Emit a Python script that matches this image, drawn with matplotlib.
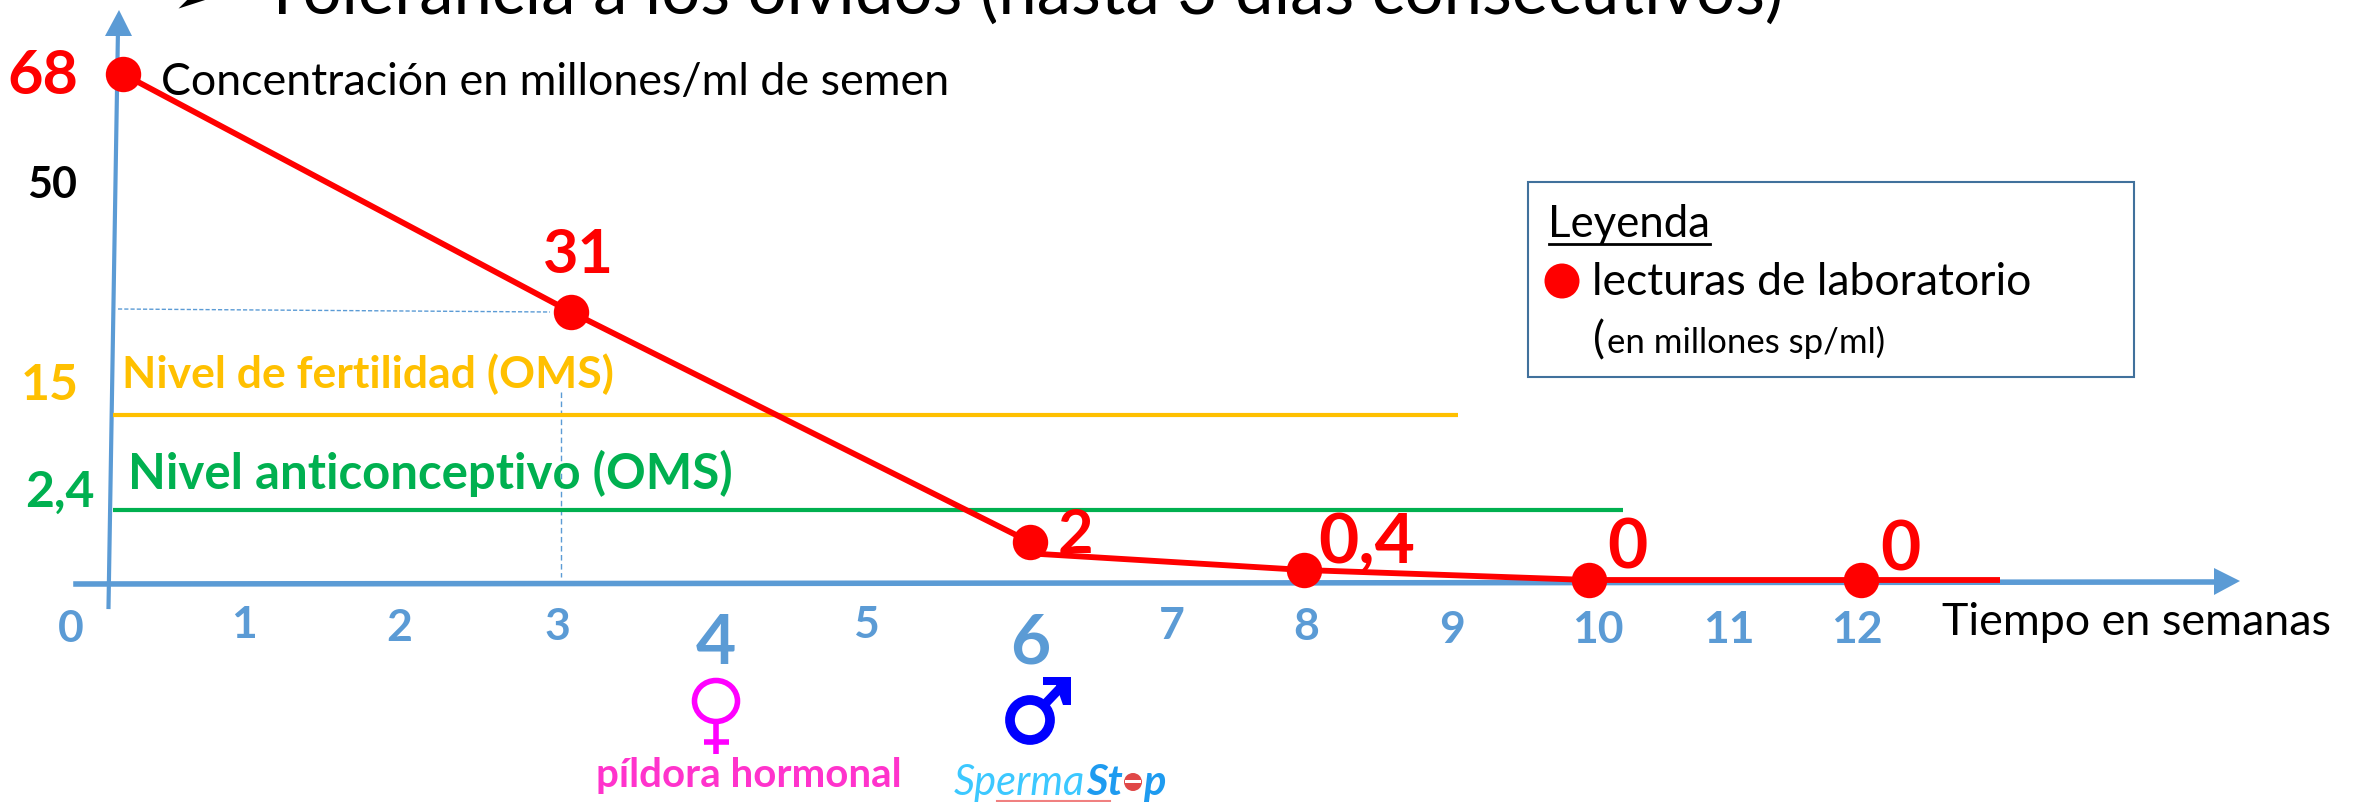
import numpy as np
import matplotlib
matplotlib.use("Agg")
import matplotlib.pyplot as plt
from matplotlib.patches import Rectangle, Polygon, Ellipse, Circle

plt.rcParams['font.family'] = ['Lato', 'DejaVu Sans']

# lab readings
weeks = [0, 3, 6, 8, 10, 12]
conc = [68, 31, 2, 0.4, 0, 0]
line_end_week = 13
# the second stretch of the line leaves week 6 a bit below the dot
second_stretch_start = 1.35
fertility_level = 15
contraceptive_level = 2.4
value_labels = ['68', '31', '2', '0,4', '0', '0']
week_labels = ['0', '1', '2', '3', '4', '5', '6', '7', '8', '9', '10', '11', '12']

RED = '#FF0000'
BLUE = '#5B9BD5'
AMBER = '#FFC000'
GREEN = '#00B050'
W, H = 2361, 803

# the drawing is hand made, so both axes are piecewise: value -> pixel
week_knots = [-0.82, 0, 3, 6, 8, 10, 12, 13, 15.6]
xpx_knots = [0, 123, 571, 1030, 1304, 1589, 1861, 2000, 2361]
conc_knots = [-10, 0, 0.4, 2, 2.4, 15, 31, 68, 80]
ypx_knots = [803, 581, 571, 543, 511, 416, 313, 75, 0]
yh_knots = [H - p for p in ypx_knots]

fig = plt.figure(figsize=(W / 100, H / 100), dpi=100)
ax = fig.add_axes([0, 0, 1, 1])
ax.set_xscale('function', functions=(lambda v: np.interp(v, week_knots, xpx_knots),
                                     lambda p: np.interp(p, xpx_knots, week_knots)))
ax.set_yscale('function', functions=(lambda v: np.interp(v, conc_knots, yh_knots),
                                     lambda p: np.interp(p, yh_knots, conc_knots)))
ax.set_xlim(week_knots[0], week_knots[-1])
ax.set_ylim(conc_knots[0], conc_knots[-1])
ax.axis('off')
ax.patch.set_alpha(0)

# overlay in pixels for the annotations
pix = fig.add_axes([0, 0, 1, 1], zorder=-1)
pix.set_xlim(0, W)
pix.set_ylim(H, 0)
pix.axis('off')
top = fig.add_axes([0, 0, 1, 1], zorder=5)
top.set_xlim(0, W)
top.set_ylim(H, 0)
top.axis('off')
top.patch.set_alpha(0)


def put(x, y, s, size, color='black', weight='normal', ha='center', **kw):
    top.text(x, y, s, fontsize=size, color=color, fontweight=weight, ha=ha, va='baseline', **kw)


# axes arrows
pix.plot([108.5, 118], [608, 30], color=BLUE, lw=3)
pix.add_patch(Polygon([[119, 11], [105, 37], [132, 37]], color=BLUE, lw=0))
pix.plot([76, 2216], [585, 583], color=BLUE, lw=4)
pix.add_patch(Polygon([[2240, 582], [2214, 569], [2214, 596]], color=BLUE, lw=0))

# guides to the week 3 reading
pix.plot([118, 550], [310, 313], color=BLUE, lw=1, ls=(0, (3, 1.5)))
pix.plot([561, 561], [393, 578], color=BLUE, lw=1, ls=(0, (4, 2.5)))

# WHO levels
ax.plot([-0.07, 9.08], [fertility_level] * 2, color=AMBER, lw=3, solid_capstyle='butt')
ax.plot([-0.07, 10.25], [contraceptive_level] * 2, color=GREEN, lw=3, solid_capstyle='butt')

# readings
ax.plot(weeks[:3], conc[:3], color=RED, lw=4.2, solid_capstyle='butt', zorder=3)
ax.plot(weeks[2:] + [line_end_week], [second_stretch_start] + conc[3:] + [0],
        color=RED, lw=4.2, solid_capstyle='butt', zorder=3)
ax.plot(weeks, conc, 'o', color=RED, ms=25.5, mew=0, zorder=4)

# header clipped by the top edge
put(172, 14, '➢', 42, ha='left', family=['DejaVu Sans'])
put(262, 14, 'Tolerancia a los olvidos (hasta 3 días consecutivos)', 49.6, ha='left')

put(161, 95, 'Concentración en millones/ml de semen', 32.2, ha='left')
put(1942, 635, 'Tiempo en semanas', 32.3, ha='left')

# y side labels
put(43, 94, value_labels[0], 44, RED, 'bold')
put(52, 198, '50', 31, 'black', 'bold')
put(50, 400, '15', 36, AMBER, 'bold')
put(60, 507, '2,4', 36, GREEN, 'bold')
put(122, 388, 'Nivel de fertilidad (OMS)', 32, AMBER, 'bold', ha='left')
put(128, 489, 'Nivel anticonceptivo (OMS)', 35.4, GREEN, 'bold', ha='left')

# reading labels
put(578, 273, value_labels[1], 44, RED, 'bold')
put(1075, 553, value_labels[2], 44, RED, 'bold')
put(1367, 563, value_labels[3], 50, RED, 'bold')
put(1627, 569, value_labels[4], 50, RED, 'bold')
put(1900, 571, value_labels[5], 50, RED, 'bold')

# week labels, not evenly placed in the original
tick_x = [71, 244, 399, 557, 716, 866, 1030, 1172, 1306, 1452, 1598, 1729, 1857]
tick_y = [642, 638, 641, 640, 664, 638, 664, 639, 640, 643, 643, 643, 643]
tick_size = [32, 32, 32, 32, 50, 32, 50, 32, 32, 32, 32, 32, 32]
for lab, tx, ty, ts in zip(week_labels, tick_x, tick_y, tick_size):
    put(tx, ty, lab, ts, BLUE, 'bold')

# legend box
pix.add_patch(Rectangle((1528, 183), 606, 195, fc='white', ec='#41719C', lw=1.5))
put(1548, 237, 'Leyenda', 31.5, ha='left')
top.plot([1549, 1710], [245, 245], color='black', lw=2)
top.add_patch(Ellipse((1562, 282), 35, 35, color=RED, lw=0))
put(1592, 295, 'lecturas de laboratorio', 32, ha='left')
put(1593, 353, '(', 32, ha='left')
put(1607, 353, 'en millones sp/ml)', 25, ha='left')

# female symbol
PINK = '#FF00FF'
top.add_patch(Ellipse((716, 702), 43, 41, fc='none', ec=PINK, lw=4))
top.plot([716, 716], [724, 755], color=PINK, lw=4, solid_capstyle='butt')
top.plot([704, 729], [743, 743], color=PINK, lw=4, solid_capstyle='butt')
put(596, 787, 'píldora hormonal', 29, '#FF33CC', 'bold', ha='left')

# male symbol
MALE = '#0000FF'
top.add_patch(Ellipse((1030, 721), 40, 40, fc='none', ec=MALE, lw=7))
top.plot([1045, 1065], [705, 684], color=MALE, lw=6.5, solid_capstyle='butt')
top.add_patch(Polygon([[1043, 678], [1071, 678], [1071, 706], [1063, 706], [1056, 686], [1043, 686]],
                      color=MALE, lw=0))

# SpermaStop logo
put(954, 795, 'Sperma', 30, '#3CC8FF', 'normal', ha='left', style='italic')
put(1086, 795, 'St', 30, '#1E9BF0', 'bold', ha='left', style='italic')
top.add_patch(Circle((1133, 783), 9, color='#E04848', lw=0))
top.add_patch(Rectangle((1125, 781), 16, 3, color='white', lw=0))
put(1143, 795, 'p', 30, '#1E9BF0', 'bold', ha='left', style='italic')
top.plot([997, 1110], [802, 802], color='#F08080', lw=1.5)

fig.savefig('out.png', dpi=100, facecolor='white')
